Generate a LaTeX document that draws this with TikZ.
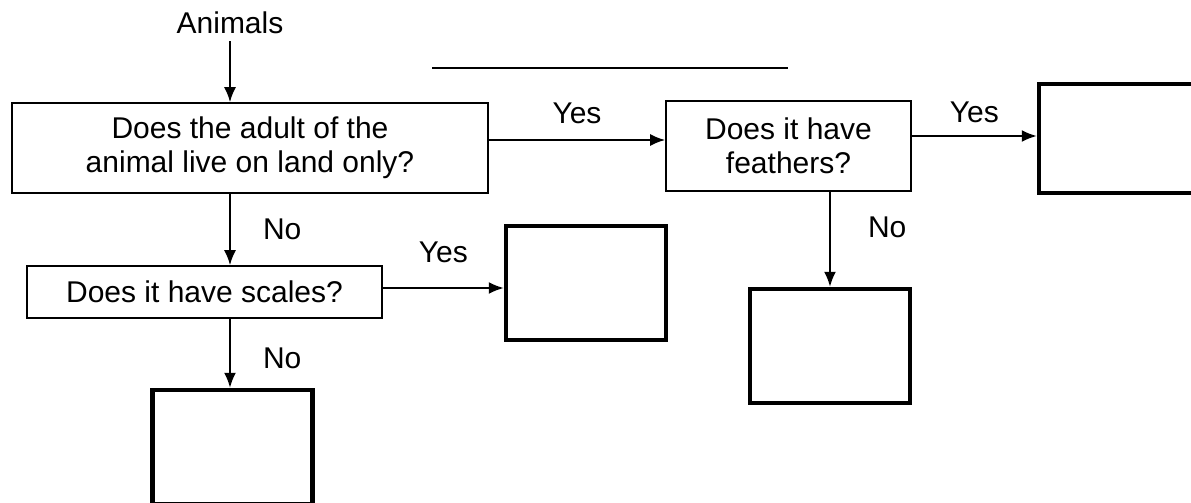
\documentclass[tikz,border=0pt]{standalone}
\usepackage{fontspec}
\setmainfont{Liberation Sans}
\usetikzlibrary{positioning,arrows.meta}

\begin{document}
\begin{tikzpicture}[
        x=0.5pt, y=-0.5pt,
        font=\fontsize{15}{17}\selectfont,
        vraag/.style={draw, line width=0.8pt, inner sep=0pt, align=center},
        antwoord/.style={draw, line width=2.2pt, inner sep=0pt, minimum width=80pt, minimum height=57pt},
        pijl/.style={-{Latex[length=7.5pt,width=6pt]}, line width=1pt},
        lbl/.style={inner sep=2pt}
    ]
        \useasboundingbox (0,0) rectangle (1191,503);

        \node (animals) at (230,23) {Animals};
        \node[vraag, minimum width=238pt, minimum height=45pt] (q1) at (250,148) {Does the adult of the\\animal live on land only?};
        \node[vraag, minimum width=122.5pt, minimum height=45pt] (q2) at (788.5,146) {Does it have\\feathers?};
        \node[vraag, minimum width=177.5pt, minimum height=26pt] (q3) at (204.5,292) {Does it have scales?};

        \node[antwoord, minimum height=54.5pt] (a1) at (1119,138.5) {};
        \node[antwoord] (a2) at (586,283) {};
        \node[antwoord] (a3) at (830,346) {};
        \node[antwoord] (a4) at (232.5,447) {};

        \draw[line width=1.3pt] (432,68) -- (788,68);

        \draw[pijl] (animals.south) -- (animals.south |- q1.north);
        \draw[pijl] ([yshift=4pt]q1.east) -- ([yshift=4pt]q1.east -| q2.west) node[lbl, midway, above=5.5pt] {Yes};
        \draw[pijl] ([yshift=5pt]q2.east) -- ([yshift=5pt]q2.east -| a1.west) node[lbl, midway, above=4pt] {Yes};
        \draw[pijl] (q2.south -| a3.north) -- (a3.north) node[lbl, pos=0.37, right=16.5pt] {No};
        \draw[pijl] (q1.south -| animals) -- (q3.north -| animals) node[lbl, midway, right=14pt] {No};
        \draw[pijl] ([yshift=2pt]q3.east) -- ([yshift=2pt]q3.east -| a2.west) node[lbl, midway, above=10pt] {Yes};
        \draw[pijl] (q3.south -| animals) -- (a4.north -| animals) node[lbl, pos=0.58, right=14pt] {No};
    \end{tikzpicture}
\end{document}
